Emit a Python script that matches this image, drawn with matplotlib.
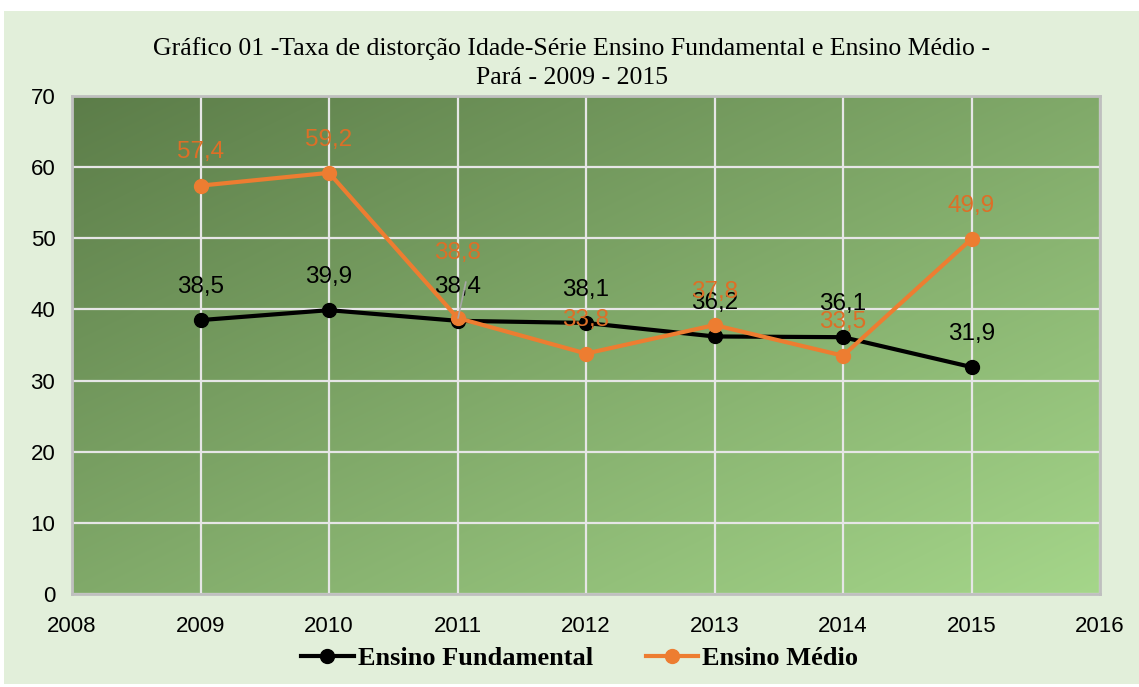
import numpy as np
import matplotlib.pyplot as plt
from matplotlib.patches import Rectangle
from matplotlib.lines import Line2D
from matplotlib.colors import to_rgb

# dados
anos = [2009, 2010, 2011, 2012, 2013, 2014, 2015]
fundamental = [38.5, 39.9, 38.4, 38.1, 36.2, 36.1, 31.9]
medio = [57.4, 59.2, 38.8, 33.8, 37.8, 33.5, 49.9]
titulo = "Gráfico 01 -Taxa de distorção Idade-Série Ensino Fundamental e Ensino Médio -\nPará - 2009 - 2015"

# deslocamento vertical dos rótulos (pontos)
desl_fund = [24, 24, 24, 24, 24, 24, 24]
desl_med = [24, 24, 47, 24, 24, 24, 24]

cor_fund = "#000000"
cor_med = "#ED7D31"
cor_lab_med = "#DD6F27"

fig = plt.figure(figsize=(11.39, 6.87), dpi=100)
fig.patch.set_facecolor("white")
fig.patches.append(Rectangle((4 / 1139, 0.004), 1 - 4 / 1139, 1 - 11 / 687 - 0.004,
                             transform=fig.transFigure, facecolor="#E2EFDA",
                             edgecolor="none", zorder=-10))

ax = fig.add_axes([72 / 1139, 1 - 594 / 687, (1100 - 72) / 1139, (594 - 96) / 687])

# fundo em degradê (canto superior esquerdo escuro -> inferior direito claro)
c0 = np.array(to_rgb("#5C7D49"))
c1 = np.array(to_rgb("#A5D68A"))
gx, gy = np.meshgrid(np.linspace(0, 1, 300), np.linspace(0, 1, 200))
t = (gx + gy) / 2
img = c0[None, None, :] * (1 - t[..., None]) + c1[None, None, :] * t[..., None]
ax.imshow(img, extent=[2008, 2016, 0, 70], origin="upper", aspect="auto",
          zorder=0, interpolation="bilinear")
ax.set_xlim(2008, 2016)
ax.set_ylim(0, 70)

ax.set_xticks(range(2008, 2017))
ax.set_yticks(range(0, 71, 10))
ax.grid(True, color="#E6E6E6", linewidth=1.6, zorder=1)
ax.tick_params(length=0, labelsize=16, pad=16)
ax.tick_params(axis="y", pad=12)
for lab in ax.get_xticklabels() + ax.get_yticklabels():
    lab.set_fontfamily("Liberation Sans")
for s in ax.spines.values():
    s.set_color("#BFBFBF")
    s.set_linewidth(2)

ax.plot(anos, fundamental, color=cor_fund, lw=3, marker="o", ms=10, zorder=3)
ax.plot(anos, medio, color=cor_med, lw=3, marker="o", ms=10, zorder=4)

for x, v, d in zip(anos, fundamental, desl_fund):
    ax.annotate(f"{v:.1f}".replace(".", ","), (x, v), xytext=(0, d),
                textcoords="offset points", ha="center", va="center",
                fontsize=17.5, color="black", family="Liberation Sans", zorder=5)
for x, v, d in zip(anos, medio, desl_med):
    ax.annotate(f"{v:.1f}".replace(".", ","), (x, v), xytext=(0, d),
                textcoords="offset points", ha="center", va="center",
                fontsize=17.5, color=cor_lab_med, family="Liberation Sans", zorder=5)

# linha guia do rótulo de 2011
ax.annotate("", (2011, 38.4), xytext=(6, 28), textcoords="offset points",
            arrowprops=dict(arrowstyle="-", color="#A6A6A6", lw=1.2,
                            shrinkA=0, shrinkB=2), zorder=5)

fig.text(0.502, 1 - 63 / 687, titulo, ha="center", va="center", fontsize=18.5,
         family="Liberation Serif", linespacing=1.45)

handles = [Line2D([], [], color=cor_fund, lw=3, marker="o", ms=10),
           Line2D([], [], color=cor_med, lw=3, marker="o", ms=10)]
fig.legend(handles, ["Ensino Fundamental", "Ensino Médio"], loc="center",
           bbox_to_anchor=(0.509, 1 - 658 / 687), ncol=2, frameon=False,
           prop={"family": "Liberation Serif", "weight": "bold", "size": 19},
           handlelength=2.0, handletextpad=0.15, columnspacing=2.0)

fig.savefig("out.png", dpi=100)
